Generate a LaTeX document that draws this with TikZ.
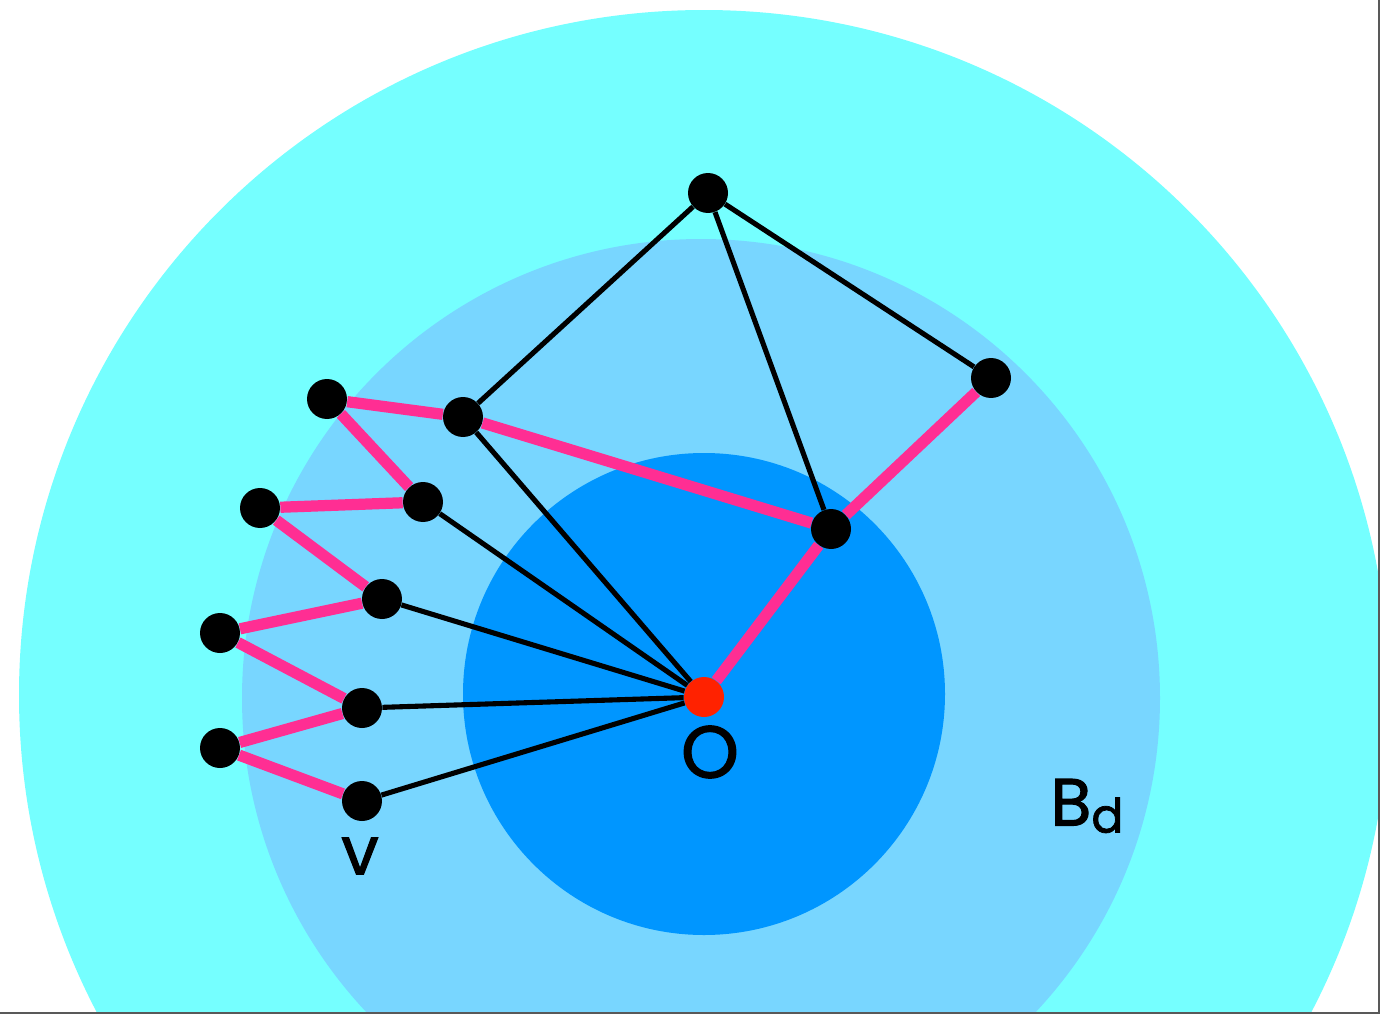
\documentclass[tikz,border=0pt]{standalone}
\usepackage{fontspec}
\setmainfont{Poppins}
\newfontfamily\lblfont{Poppins}[FakeBold=1.6]
\usepackage{tikz}
\usetikzlibrary{positioning}
\definecolor{outerball}{HTML}{75FFFF}
\definecolor{midball}{HTML}{78D6FF}
\definecolor{innerball}{HTML}{0096FF}
\definecolor{pathpink}{HTML}{FF2E93}
\definecolor{rootred}{HTML}{FF2200}
\tikzstyle{vertex} = [circle, fill=black, inner sep=0pt, minimum size=0.8cm]
\tikzstyle{root} = [circle, fill=rootred, inner sep=0pt, minimum size=0.8cm]
\tikzstyle{edge} = [line width=2.9pt, black]
\tikzstyle{tree} = [line width=6.4pt, pathpink]
\tikzstyle{lbl} = [font=\lblfont\fontsize{38}{42}\selectfont]
\begin{document}
\begin{tikzpicture}[x=0.02cm, y=-0.02cm]
            \useasboundingbox (0,0) rectangle (1380,1014);
            \begin{scope}
                \clip (0,0) rectangle (1380,1014);
                \fill[outerball] (704,695) circle (685);
                \fill[midball] (701,698) circle (459);
                \fill[innerball] (704,694) circle (241);
            \end{scope}
            \draw[gray!70!black, line width=1.2pt] (1379,0) -- (1379,1013) -- (0,1013);

            \node (o) [root] at (704,697) {};
            \node (top) [vertex] at (708,193) {};
            \node (east) [vertex] at (991,378) {};
            \node (hub) [vertex] at (831,529) {};
            \node (a1) [vertex] at (463,417) {};
            \node (b1) [vertex] at (327,399) {};
            \node (a2) [vertex] at (423,502) {};
            \node (b2) [vertex] at (260,508) {};
            \node (a3) [vertex] at (382,599) {};
            \node (b3) [vertex] at (220,633) {};
            \node (a4) [vertex] at (362,708) {};
            \node (b4) [vertex] at (220,748) {};
            \node (v) [vertex] at (362,801) {};

            \node (olabel) [lbl, font=\lblfont\fontsize{42}{46}\selectfont] at (710,752) {O};
            \node (vlabel) [lbl] at (360,856) {v};
            \node (blabel) [lbl] at (1087,806) {B{\fontsize{27}{30}\selectfont\raisebox{-4pt}{d}}};

            % black edges
            \draw [edge] (top) -- (a1);
            \draw [edge] (top) -- (hub);
            \draw [edge] (top) -- (east);
            \foreach \n in {a1,a2,a3,a4,v}
                \draw [edge] (\n) -- (o);

            % pink tree
            \draw [tree] (o) -- (hub);
            \draw [tree] (hub) -- (east);
            \draw [tree] (hub) -- (a1);
            \draw [tree] (a1) -- (b1);
            \draw [tree] (b1) -- (a2);
            \draw [tree] (a2) -- (b2);
            \draw [tree] (b2) -- (a3);
            \draw [tree] (a3) -- (b3);
            \draw [tree] (b3) -- (a4);
            \draw [tree] (a4) -- (b4);
            \draw [tree] (b4) -- (v);
        \end{tikzpicture}
\end{document}
